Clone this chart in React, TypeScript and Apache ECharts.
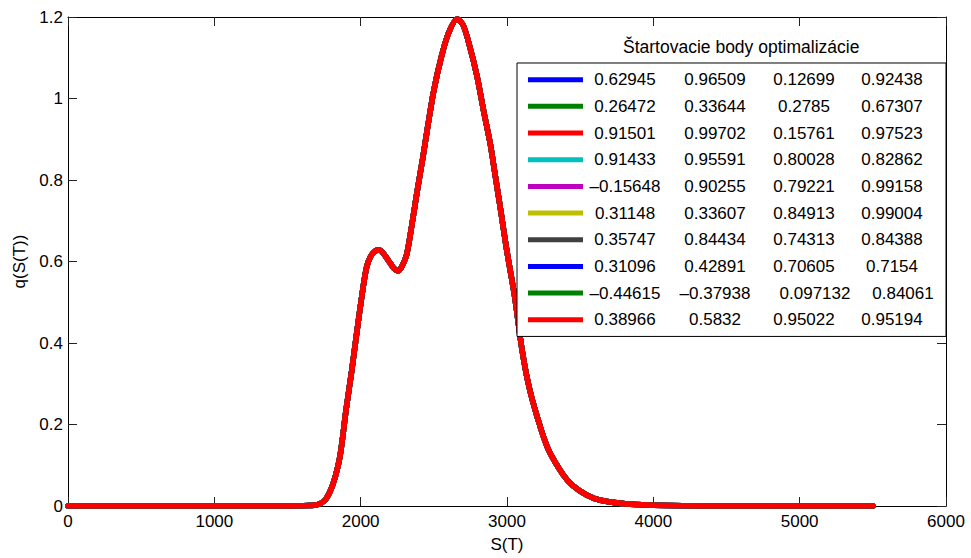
import React, { useEffect, useRef } from "react";
import * as echarts from "echarts";

// S(T) values (x) and q(S(T)) values (y, ×10^-3)
const sValues = [0, 500, 1000, 1500, 1600, 1650, 1700, 1750, 1790, 1825, 1860, 1900, 1940, 1975, 2010, 2040, 2070, 2100, 2125, 2150, 2200, 2230, 2257, 2285, 2315, 2350, 2385, 2425, 2460, 2500, 2550, 2600, 2660, 2700, 2740, 2795, 2840, 2885, 2920, 2955, 2995, 3055, 3100, 3146, 3203, 3280, 3385, 3450, 3544, 3640, 3820, 4000, 4200, 4500, 5000, 5500];
const qValues = [0, 0, 0, 0, 0.0005, 0.001, 0.003, 0.012, 0.035, 0.07, 0.125, 0.235, 0.335, 0.43, 0.52, 0.585, 0.614, 0.626, 0.628, 0.622, 0.597, 0.582, 0.577, 0.59, 0.618, 0.69, 0.77, 0.855, 0.935, 1.02, 1.1, 1.16, 1.195, 1.18, 1.135, 1.055, 0.97, 0.89, 0.81, 0.73, 0.635, 0.508, 0.39, 0.3, 0.223, 0.141, 0.076, 0.05, 0.027, 0.014, 0.005, 0.002, 0.0005, 0, 0, 0];

// Starting points of the optimization (legend entries)
const startPoints = [
  ["0.62945", "0.96509", "0.12699", "0.92438"],
  ["0.26472", "0.33644", "0.2785", "0.67307"],
  ["0.91501", "0.99702", "0.15761", "0.97523"],
  ["0.91433", "0.95591", "0.80028", "0.82862"],
  ["–0.15648", "0.90255", "0.79221", "0.99158"],
  ["0.31148", "0.33607", "0.84913", "0.99004"],
  ["0.35747", "0.84434", "0.74313", "0.84388"],
  ["0.31096", "0.42891", "0.70605", "0.7154"],
  ["–0.44615", "–0.37938", "0.097132", "0.84061"],
  ["0.38966", "0.5832", "0.95022", "0.95194"],
];
const seriesColors = ["#0000FF", "#008000", "#FF0000", "#00BFBF", "#BF00BF", "#BFBF00", "#404040", "#0000FF", "#008000", "#FF0000"];

const legendTitle = "Štartovacie body optimalizácie";
const xTicks = { min: 0, max: 6000, interval: 1000 };
const yTicks = { min: 0, max: 1.2, interval: 0.2 };

const FONT = "'Liberation Sans', Arial, sans-serif";

export default function App() {
  const ref = useRef<HTMLDivElement>(null);
  useEffect(() => {
    if (!ref.current) return;
    const chart = echarts.init(ref.current, undefined, { renderer: "svg" });
    const data = sValues.map((s, i) => [s, qValues[i]]);
    const names = startPoints.map((p) => p.join("|"));
    const axisCommon = {
      type: "value" as const,
      axisLine: { show: true, onZero: false, lineStyle: { color: "#000", width: 1 } },
      axisTick: { show: true, inside: true, length: 9, lineStyle: { color: "#222" } },
      splitLine: { show: false },
    };
    const rs = (w: number) => ({ width: w, align: "center", fontSize: 17, lineHeight: 20, fontFamily: FONT, color: "#000" });
    const option: any = {
      animation: false,
      backgroundColor: "#fff",
      textStyle: { fontFamily: FONT },
      grid: { left: 68, right: 25, top: 17, bottom: 50, containLabel: false },
      xAxis: [
        {
          ...axisCommon,
          position: "bottom",
          ...xTicks,
          axisLabel: { margin: 7, fontSize: 17, color: "#000", fontFamily: FONT, formatter: (v: number) => String(v) },
          name: "S(T)",
          nameLocation: "middle",
          nameGap: 30,
          nameTextStyle: { fontSize: 17, color: "#000", fontFamily: FONT },
        },
        { ...axisCommon, position: "top", ...xTicks, axisLabel: { show: false } },
      ],
      yAxis: [
        {
          ...axisCommon,
          position: "left",
          ...yTicks,
          axisLabel: {
            margin: 5,
            fontSize: 17,
            color: "#000",
            fontFamily: FONT,
            formatter: (v: number) => String(Math.round(v * 10) / 10),
          },
          name: "q(S(T))",
          nameLocation: "middle",
          nameRotate: 90,
          nameGap: 38,
          nameTextStyle: { fontSize: 17, color: "#000", fontFamily: FONT },
        },
        { ...axisCommon, position: "right", ...yTicks, axisLabel: { show: false } },
      ],
      legend: {
        orient: "vertical",
        left: 517,
        top: 63,
        icon: "rect",
        itemWidth: 55,
        itemHeight: 5,
        itemGap: 6.67,
        padding: [6.7, 2, 6.7, 11],
        backgroundColor: "#fff",
        borderColor: "#000",
        borderWidth: 1,
        selectedMode: false,
        itemStyle: { borderWidth: 0 },
        data: names,
        formatter: (name: string) => {
          const p = name.split("|");
          if (p[2].length > 7) {
            return `{a|${p[0]}}{b|${p[1]}}{c2|${p[2]}}{d2|${p[3]}}`;
          }
          return `{a|${p[0]}}{b|${p[1]}}{c|${p[2]}}{d|${p[3]}}`;
        },
        textStyle: {
          fontSize: 17,
          color: "#000",
          fontFamily: FONT,
          lineHeight: 20,
          rich: {
            a: rs(74),
            b: rs(106),
            c: rs(72),
            d: rs(104),
            c2: rs(94),
            d2: rs(82),
          },
        },
      },
      graphic: [
        {
          type: "text",
          left: 623,
          top: 38,
          style: { text: legendTitle, fontSize: 17.5, fill: "#000", fontFamily: FONT },
        },
      ],
      series: names.map((n, i) => ({
        name: n,
        type: "line",
        data,
        xAxisIndex: 0,
        yAxisIndex: 0,
        showSymbol: false,
        symbol: "none",
        smooth: 0.3,
        color: seriesColors[i],
        lineStyle: { width: 5.5, color: seriesColors[i], cap: "round", join: "round" },
      })),
    };
    chart.setOption(option);
    return () => chart.dispose();
  }, []);
  return (
    <div
      ref={ref}
      style={{ position: "fixed", left: 0, top: 0, width: 971, height: 558, background: "#fff" }}
    />
  );
}
